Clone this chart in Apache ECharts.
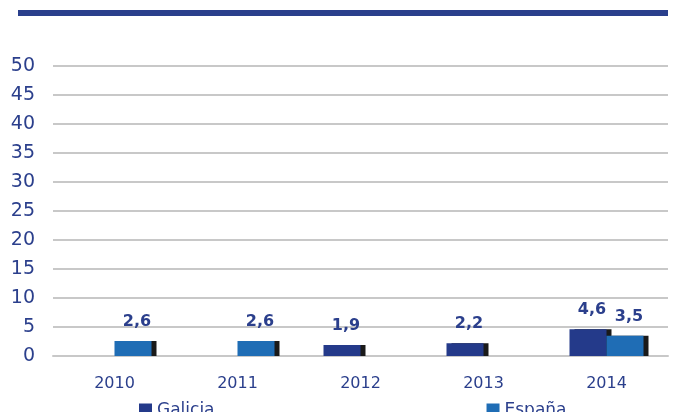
<!DOCTYPE html>
<html>
<head>
<meta charset="utf-8">
<script src="https://cdn.jsdelivr.net/npm/echarts@6/dist/echarts.min.js"></script>
<style>
  html, body { margin: 0; padding: 0; background: #fff; }
  #chart { width: 677px; height: 412px; }
</style>
</head>
<body>
<div id="chart"></div>
<script>
// datos
const years = ['2010', '2011', '2012', '2013', '2014']
const galicia = [null, null, 1.9, 2.2, 4.6]
const espana = [2.6, 2.6, null, null, 3.5]
const yTicks = [0, 50, 5]

const txtColor = '#2b3f8c'
const fmt = p => String(p.value).replace('.', ',')

const chart = echarts.init(document.getElementById('chart'))

const barLabel = {
  show: true,
  position: 'top',
  distance: 11,
  offset: [4, 0],
  formatter: fmt,
  color: txtColor,
  fontFamily: 'DejaVu Sans',
  fontWeight: 'bold',
  fontSize: 16
}

const option = {
  animation: false,
  graphic: [{
    type: 'rect',
    shape: { x: 18, y: 10, width: 650, height: 6 },
    style: { fill: '#2a3f8c' }
  }],
  grid: { left: 53, right: 9, top: 66, bottom: 56 },
  legend: {
    left: 134,
    top: 397,
    icon: 'rect',
    itemWidth: 13,
    itemHeight: 14,
    itemGap: 272,
    textStyle: { color: txtColor, fontFamily: 'DejaVu Sans', fontSize: 17 },
    data: ['Galicia', 'España']
  },
  xAxis: {
    type: 'category',
    data: years,
    axisLine: { lineStyle: { color: '#c8c8c8', width: 2 } },
    axisTick: { show: false },
    axisLabel: { color: txtColor, fontFamily: 'DejaVu Sans', fontSize: 16, margin: 20 }
  },
  yAxis: {
    type: 'value',
    min: yTicks[0],
    max: yTicks[1],
    interval: yTicks[2],
    axisLine: { show: false },
    axisTick: { show: false },
    splitLine: { lineStyle: { color: '#c8c8c8', width: 2 } },
    axisLabel: { color: txtColor, fontFamily: 'DejaVu Sans', fontSize: 19, margin: 18 }
  },
  series: [
    {
      name: 'Galicia',
      type: 'bar',
      data: galicia,
      barWidth: 37,
      barGap: '0%',
      itemStyle: {
        color: '#243a8a',
        shadowColor: '#1a1a1a',
        shadowOffsetX: 5,
        shadowOffsetY: 0,
        shadowBlur: 0
      },
      label: barLabel
    },
    {
      name: 'España',
      type: 'bar',
      data: espana,
      barWidth: 37,
      itemStyle: {
        color: '#1f6db5',
        shadowColor: '#1a1a1a',
        shadowOffsetX: 5,
        shadowOffsetY: 0,
        shadowBlur: 0
      },
      label: barLabel
    }
  ]
}

chart.setOption(option)
window.addEventListener('resize', () => chart.resize())
</script>
</body>
</html>
